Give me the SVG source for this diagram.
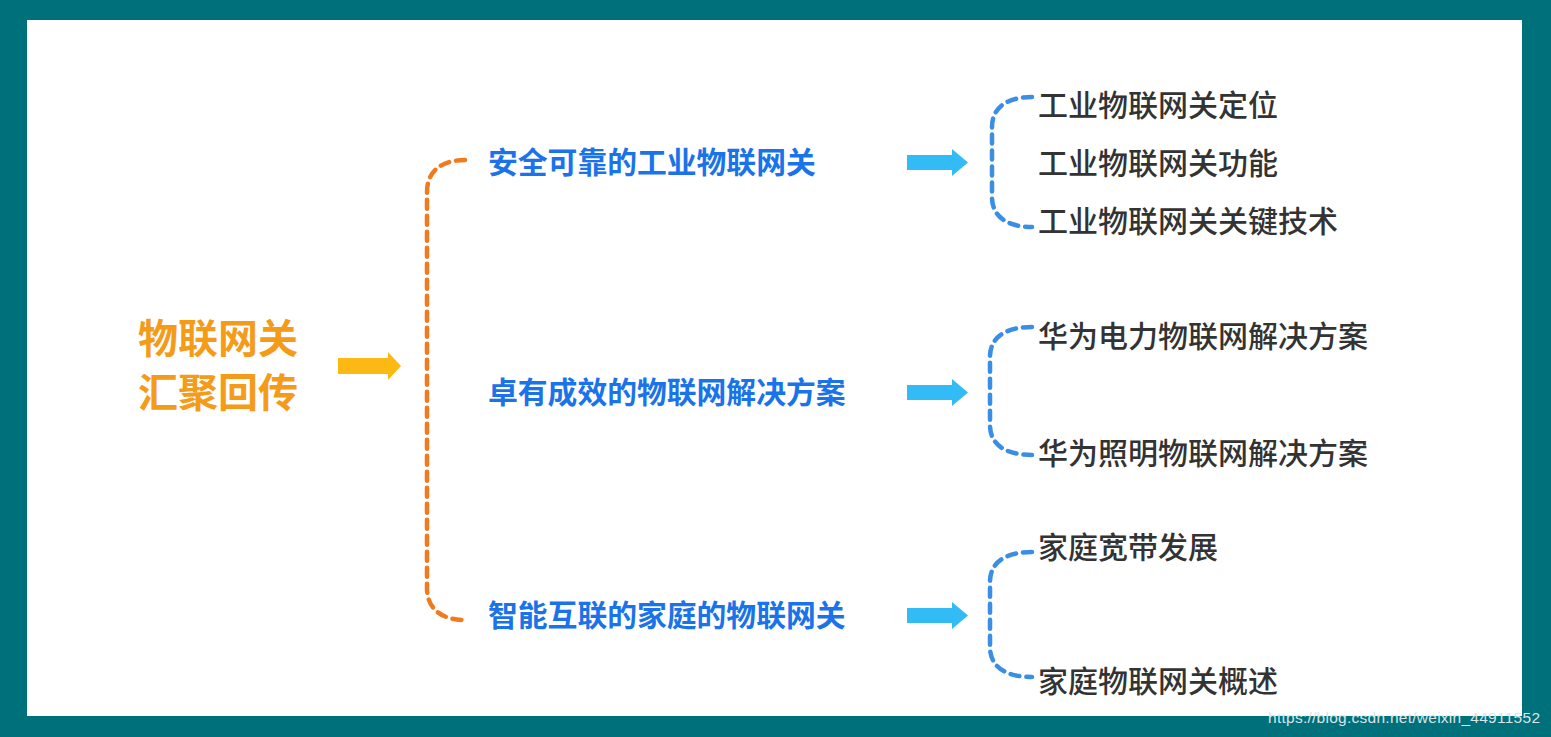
<svg xmlns="http://www.w3.org/2000/svg" width="1551" height="737" viewBox="0 0 1551 737">
<defs>
<style>
.title{font-family:"Noto Sans CJK SC","Noto Sans",sans-serif;font-size:40px;font-weight:700;fill:#F49B1A}
.mid{font-family:"Noto Sans CJK SC","Noto Sans",sans-serif;font-size:29.8px;font-weight:700;fill:#1A73E8}
.leaf{font-family:"Noto Sans CJK SC","Noto Sans",sans-serif;font-size:30px;font-weight:500;fill:#333333}
.ob{fill:none;stroke:#F07B1E;stroke-width:4.5;stroke-dasharray:9 7;stroke-linecap:round}
.bb{fill:none;stroke:#3A8EE6;stroke-width:4.5;stroke-dasharray:9 7;stroke-linecap:round}
.ba{fill:#33BBF5}
.wm{font-family:"Liberation Sans",Arial,sans-serif;font-size:15.5px;fill:#D8E6E8}
</style>
</defs>
<rect x="0" y="0" width="1551" height="737" fill="#00707A"/>
<rect x="27" y="20" width="1495" height="696" fill="#FFFFFF"/>

<g id="root">
<text class="title" x="138" y="353">物联网关</text>
<text class="title" x="138" y="407">汇聚回传</text>
</g>

<g id="connectors">
<path d="M338,358 H388 V352 L401,366 L388,380 V374 H338 Z" fill="#FDB913"/>
<path class="ob" d="M465,160 C443,160 427,170 427,192 V588 C427,610 443,620 465,620"/>
<path class="ba" d="M907,155 H952 V149 L968,162.5 L952,176 V170 H907 Z"/>
<path class="ba" d="M907,385 H952 V379 L968,392.5 L952,406 V400 H907 Z"/>
<path class="ba" d="M907,608 H952 V602 L968,615.5 L952,629 V623 H907 Z"/>
<path class="bb" d="M1032,97 C1008,97 992,107 992,127 V197 C992,217 1008,227 1032,227"/>
<path class="bb" d="M1032,327 C1006,327 990,337 990,357 V425 C990,445 1006,455 1032,455"/>
<path class="bb" d="M1032,552 C1006,552 990,562 990,582 V647 C990,667 1006,677 1032,677"/>
</g>

<g id="n1"><text class="mid" x="488" y="173">安全可靠的工业物联网关</text></g>
<g id="n2"><text class="mid" x="488" y="403">卓有成效的物联网解决方案</text></g>
<g id="n3"><text class="mid" x="488" y="626">智能互联的家庭的物联网关</text></g>

<g id="n1a"><text class="leaf" x="1038" y="116">工业物联网关定位</text></g>
<g id="n1b"><text class="leaf" x="1038" y="174">工业物联网关功能</text></g>
<g id="n1c"><text class="leaf" x="1038" y="232">工业物联网关关键技术</text></g>
<g id="n2a"><text class="leaf" x="1038" y="347">华为电力物联网解决方案</text></g>
<g id="n2b"><text class="leaf" x="1038" y="464">华为照明物联网解决方案</text></g>
<g id="n3a"><text class="leaf" x="1038" y="558">家庭宽带发展</text></g>
<g id="n3b"><text class="leaf" x="1038" y="692">家庭物联网关概述</text></g>

<text class="wm" x="1268" y="723" textLength="272">https://blog.csdn.net/weixin_44911552</text>
</svg>
